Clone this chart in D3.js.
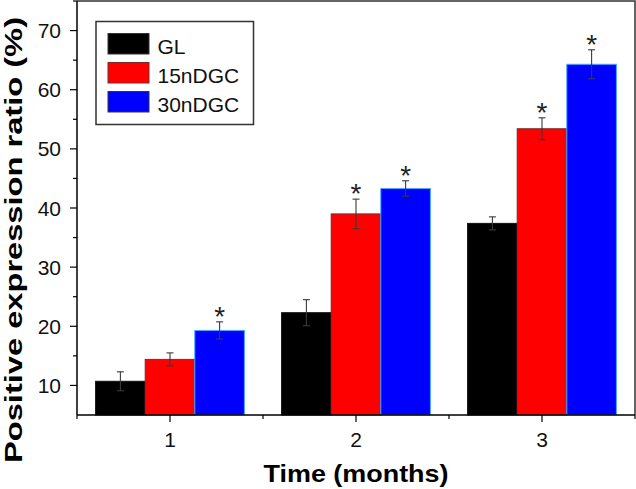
<!DOCTYPE html>
<html>
<head>
<meta charset="utf-8">
<script src="https://cdn.jsdelivr.net/npm/d3@7"></script>
<style>
    html, body { margin: 0; padding: 0; background: #fff; }
    svg { display: block; font-family: 'Liberation Sans', Arial, sans-serif; }
</style>
</head>
<body>
<svg id="chart" width="636" height="489"></svg>
<script>
/**
 * Data.
 */
const months = [1, 2, 3];
const seriesNames = ['GL', '15nDGC', '30nDGC'];
const seriesColors = ['#000000', '#ff0000', '#0000ff'];
const glValues = [10.7, 22.3, 37.4];
const glErrors = [1.6, 2.2, 1.1];
const dgc15Values = [14.4, 39.0, 53.4];
const dgc15Errors = [1.1, 2.5, 1.85];
const dgc30Values = [19.3, 43.3, 64.3];
const dgc30Errors = [1.45, 1.3, 2.45];
const dgc15Stars = [false, true, true];
const dgc30Stars = [true, true, true];
const yTicks = [10, 20, 30, 40, 50, 60, 70];
const yMinorTicks = [15, 25, 35, 45, 55, 65, 75];
const xMinorTicks = [0.5, 1.5, 2.5, 3.5];

/**
 * Visual configs.
 */
const margin = { top: 1, right: 1, bottom: 74, left: 77 },
    visWidth = 636, visHeight = 489,
    width = visWidth - margin.left - margin.right,
    height = visHeight - margin.top - margin.bottom,
    groupWidth = 0.8,
    strokes = ['#111', '#7a2a2a', '#4aa8ff'];

const series = [
    { name: seriesNames[0], values: glValues, errors: glErrors, stars: [false, false, false] },
    { name: seriesNames[1], values: dgc15Values, errors: dgc15Errors, stars: dgc15Stars },
    { name: seriesNames[2], values: dgc30Values, errors: dgc30Errors, stars: dgc30Stars }
];

/**
 * D3.
 */
const x = d3.scaleLinear().domain([0.5, 3.5]).range([0, width]),
    y = d3.scaleLinear().domain([5, 75]).range([height, 0]),
    barWidth = (x(1 + groupWidth) - x(1)) / series.length;

const svg = d3.select('#chart');
const g = svg.append('g').attr('transform', 'translate(' + margin.left + ',' + margin.top + ')');

// Bars
series.forEach((s, si) => {
    const bars = g.append('g').attr('class', 'series');
    const xOf = i => x(months[i]) - barWidth * series.length / 2 + barWidth * si;

    bars.selectAll('rect').data(s.values).join('rect')
        .attr('x', (d, i) => xOf(i))
        .attr('y', d => y(d))
        .attr('width', barWidth)
        .attr('height', d => height - y(d))
        .style('fill', seriesColors[si])
        .style('stroke', strokes[si])
        .style('stroke-width', 1);

    // Error bars
    const err = bars.selectAll('.err').data(s.values).join('g').attr('class', 'err')
        .attr('transform', (d, i) => 'translate(' + (xOf(i) + barWidth / 2) + ',0)')
        .style('stroke', '#3a3a3a')
        .style('stroke-width', 1.1);
    err.append('line')
        .attr('y1', (d, i) => y(d + s.errors[i]))
        .attr('y2', (d, i) => y(d - s.errors[i]));
    err.append('line').attr('x1', -3.5).attr('x2', 3.5)
        .attr('y1', (d, i) => y(d + s.errors[i]))
        .attr('y2', (d, i) => y(d + s.errors[i]));
    err.append('line').attr('x1', -3.5).attr('x2', 3.5)
        .attr('y1', (d, i) => y(d - s.errors[i]))
        .attr('y2', (d, i) => y(d - s.errors[i]));

    // Significance stars
    bars.selectAll('.star').data(s.values.map((d, i) => i).filter(i => s.stars[i])).join('text')
        .attr('class', 'star')
        .attr('x', i => xOf(i) + barWidth / 2)
        .attr('y', i => y(s.values[i] + s.errors[i]) + 4)
        .attr('text-anchor', 'middle')
        .style('font-size', '28px')
        .style('fill', '#222')
        .text('*');
});

// Frame (top and right)
g.append('path')
    .attr('d', 'M0,0H' + width + 'V' + height)
    .style('fill', 'none').style('stroke', '#333').style('stroke-width', 1.5);

// Y axis
const yAxis = g.append('g').attr('class', 'y-axis');
yAxis.append('line').attr('x1', 0).attr('x2', 0).attr('y1', 0).attr('y2', height)
    .style('stroke', '#000').style('stroke-width', 1.5);
yAxis.selectAll('.major').data(yTicks).join('line').attr('class', 'major')
    .attr('x1', -7).attr('x2', 0).attr('y1', y).attr('y2', y)
    .style('stroke', '#000').style('stroke-width', 1.2);
yAxis.selectAll('.minor').data(yMinorTicks).join('line').attr('class', 'minor')
    .attr('x1', -4).attr('x2', 0).attr('y1', y).attr('y2', y)
    .style('stroke', '#000').style('stroke-width', 1.2);
yAxis.selectAll('text').data(yTicks).join('text')
    .attr('x', -16).attr('y', d => y(d) + 7.5)
    .attr('text-anchor', 'end')
    .style('font-size', '21px').style('fill', '#111')
    .text(d => d);

// X axis
const xAxis = g.append('g').attr('class', 'x-axis').attr('transform', 'translate(0,' + height + ')');
xAxis.append('line').attr('x1', 0).attr('x2', width)
    .style('stroke', '#000').style('stroke-width', 1.5);
xAxis.selectAll('.major').data(months).join('line').attr('class', 'major')
    .attr('x1', x).attr('x2', x).attr('y1', 0).attr('y2', 7)
    .style('stroke', '#000').style('stroke-width', 1.2);
xAxis.selectAll('.minor').data(xMinorTicks).join('line').attr('class', 'minor')
    .attr('x1', x).attr('x2', x).attr('y1', 0).attr('y2', 4)
    .style('stroke', '#000').style('stroke-width', 1.2);
xAxis.selectAll('text').data(months).join('text')
    .attr('x', x).attr('y', 32)
    .attr('text-anchor', 'middle')
    .style('font-size', '21px').style('fill', '#111')
    .text(d => d);

// Axis titles
svg.append('text')
    .attr('x', 356).attr('y', 481.5)
    .attr('text-anchor', 'middle')
    .attr('textLength', 185).attr('lengthAdjust', 'spacingAndGlyphs')
    .style('font-size', '24px').style('font-weight', 'bold')
    .text('Time (months)');
svg.append('text')
    .attr('transform', 'translate(22,240) rotate(-90)')
    .attr('text-anchor', 'middle')
    .attr('textLength', 446).attr('lengthAdjust', 'spacingAndGlyphs')
    .style('font-size', '24px').style('font-weight', 'bold')
    .text('Positive expression ratio (%)');

// Legend
const legend = svg.append('g').attr('class', 'legend');
legend.append('rect')
    .attr('x', 96).attr('y', 21.5).attr('width', 157.5).attr('height', 103)
    .style('fill', '#fff').style('stroke', '#333').style('stroke-width', 1.5);
const items = legend.selectAll('.item').data(seriesNames).join('g').attr('class', 'item')
    .attr('transform', (d, i) => 'translate(108,' + (33.5 + i * 29) + ')');
items.append('rect')
    .attr('width', 41).attr('height', 20.5)
    .style('fill', (d, i) => seriesColors[i])
    .style('stroke', (d, i) => ['#333', '#7a2a2a', '#334'][i]).style('stroke-width', 1);
items.append('text')
    .attr('x', 49.5).attr('y', 20.8)
    .style('font-size', '21px').style('fill', '#111')
    .text(d => d);
</script>
</body>
</html>
